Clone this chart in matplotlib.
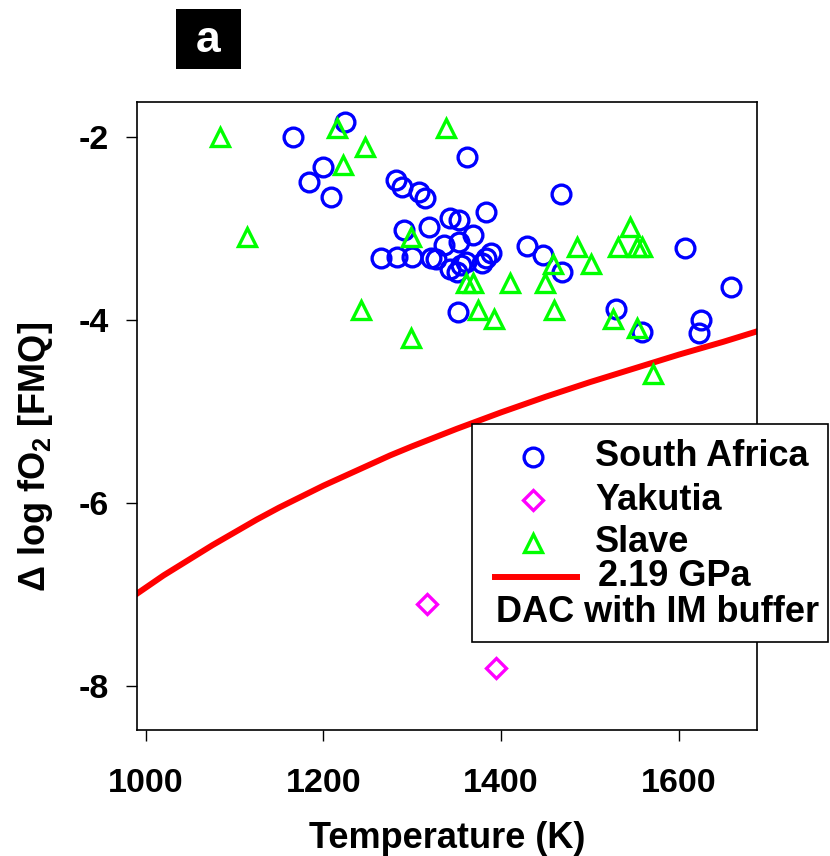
import matplotlib
matplotlib.use("Agg")
import matplotlib.pyplot as plt
from matplotlib.patches import Rectangle
from matplotlib.lines import Line2D

plt.rcParams['font.family'] = ['Liberation Sans', 'DejaVu Sans']
plt.rcParams['font.weight'] = 'bold'
plt.rcParams['axes.unicode_minus'] = False
plt.rcParams['mathtext.fontset'] = 'custom'
plt.rcParams['mathtext.rm'] = 'Liberation Sans:bold'
plt.rcParams['mathtext.sf'] = 'Liberation Sans'
plt.rcParams['mathtext.default'] = 'rm'

# South Africa
sa_t = [1166, 1224, 1200, 1184, 1208, 1362, 1282, 1288, 1308, 1314, 1383, 1467,
        1291, 1319, 1342, 1353, 1368, 1336, 1353, 1265, 1283, 1300, 1321, 1327,
        1342, 1350, 1355, 1361, 1378, 1383, 1389, 1429, 1447, 1468, 1351, 1529,
        1559, 1607, 1659, 1625, 1623]
sa_f = [-2.00, -1.84, -2.33, -2.50, -2.66, -2.22, -2.47, -2.55, -2.60, -2.67, -2.82, -2.63,
        -3.02, -2.99, -2.89, -2.91, -3.07, -3.18, -3.15, -3.32, -3.31, -3.31, -3.32, -3.34,
        -3.45, -3.48, -3.40, -3.37, -3.38, -3.32, -3.27, -3.19, -3.29, -3.48, -3.91, -3.88,
        -4.13, -3.22, -3.64, -4.00, -4.14]

# Yakutia
yk_t = [1317, 1394]
yk_f = [-7.10, -7.80]

# Slave
sl_t = [1084, 1215, 1247, 1222, 1114, 1242, 1298, 1299, 1338, 1360, 1368, 1410,
        1449, 1458, 1485, 1501, 1545, 1531, 1553, 1559, 1374, 1392, 1460, 1526,
        1553, 1571]
sl_f = [-2.00, -1.90, -2.11, -2.31, -3.09, -3.89, -4.20, -3.09, -1.90, -3.60, -3.60, -3.60,
        -3.60, -3.39, -3.20, -3.39, -2.99, -3.20, -3.20, -3.20, -3.89, -3.99, -3.89, -3.99,
        -4.09, -4.59]

# 2.19 GPa DAC with IM buffer
im_t = [990, 1005, 1020, 1035, 1050, 1075, 1100, 1125, 1150, 1175, 1200, 1225, 1250,
        1275, 1300, 1350, 1400, 1450, 1500, 1550, 1600, 1650, 1690]
im_f = [-6.99, -6.89, -6.79, -6.70, -6.61, -6.46, -6.32, -6.18, -6.05, -5.93, -5.81,
        -5.70, -5.59, -5.48, -5.38, -5.19, -5.01, -4.84, -4.68, -4.53, -4.38, -4.24, -4.12]

fig = plt.figure(figsize=(8.3, 8.56), dpi=100)
ax = fig.add_axes([0.165, 0.147, 0.747, 0.734])

ax.plot(im_t, im_f, color='#ff0000', lw=4.3, zorder=2, solid_joinstyle='round')
ax.plot(sa_t, sa_f, 'o', ms=13.5, mfc='none', mec='#0000ff', mew=2.4, zorder=3)
ax.plot(yk_t, yk_f, 'D', ms=10.5, mfc='none', mec='#ff00ff', mew=2.4, zorder=3)
ax.plot(sl_t, sl_f, '^', ms=13, mfc='none', mec='#00ff00', mew=2.4, zorder=3)

ax.set_xlim(990, 1688)
ax.set_ylim(-8.48, -1.62)
ax.set_xticks([1000, 1200, 1400, 1600])
ax.set_yticks([-8, -6, -4, -2])
ax.tick_params(direction='out', length=8, width=1, labelsize=24.5)
ax.tick_params(axis='x', pad=19)
ax.tick_params(axis='y', pad=12)
for s in ax.spines.values():
    s.set_linewidth(1.2)

ax.set_xlabel('Temperature (K)', fontsize=26, fontweight='bold', labelpad=16)
ax.set_ylabel(r'$\mathsf{\Delta}$ log fO$_2$ [FMQ]', fontsize=26, fontweight='bold')
ax.yaxis.set_label_coords(-0.132, 0.435)

# panel tag
fig.patches.append(Rectangle((176 / 830, 1 - 69 / 856), 65 / 830, 60 / 856,
                             transform=fig.transFigure, facecolor='black', edgecolor='none'))
fig.text(208.5 / 830, 1 - 40 / 856, 'a', color='white', fontsize=32, fontweight='bold',
         ha='center', va='center')

# legend box (drawn in figure coordinates, overlaps the right edge of the axes)
fig.patches.append(Rectangle((472 / 830, 1 - 642 / 856), 356 / 830, 218 / 856,
                             transform=fig.transFigure, facecolor='white',
                             edgecolor='black', lw=1.2, zorder=5))
rows = [(457, 'o', '#0000ff', 13.5, 'South Africa'),
        (500, 'D', '#ff00ff', 10.5, 'Yakutia'),
        (543, '^', '#00ff00', 13, 'Slave')]
for py, m, c, ms, lab in rows:
    fig.add_artist(Line2D([533 / 830], [1 - py / 856], marker=m, ms=ms, mfc='none',
                          mec=c, mew=2.4, transform=fig.transFigure, zorder=6))
    fig.text(595 / 830, 1 - py / 856, lab, fontsize=26, fontweight='bold',
             ha='left', va='center', zorder=6)
fig.add_artist(Line2D([495 / 830, 577 / 830], [1 - 577 / 856, 1 - 577 / 856], color='#ff0000',
                      lw=4.3, transform=fig.transFigure, zorder=6))
fig.text(598 / 830, 1 - 577 / 856, '2.19 GPa', fontsize=26, fontweight='bold',
         ha='left', va='center', zorder=6)
fig.text(496 / 830, 1 - 612 / 856, 'DAC with IM buffer', fontsize=26, fontweight='bold',
         ha='left', va='center', zorder=6)

fig.savefig('out.png', dpi=100)
